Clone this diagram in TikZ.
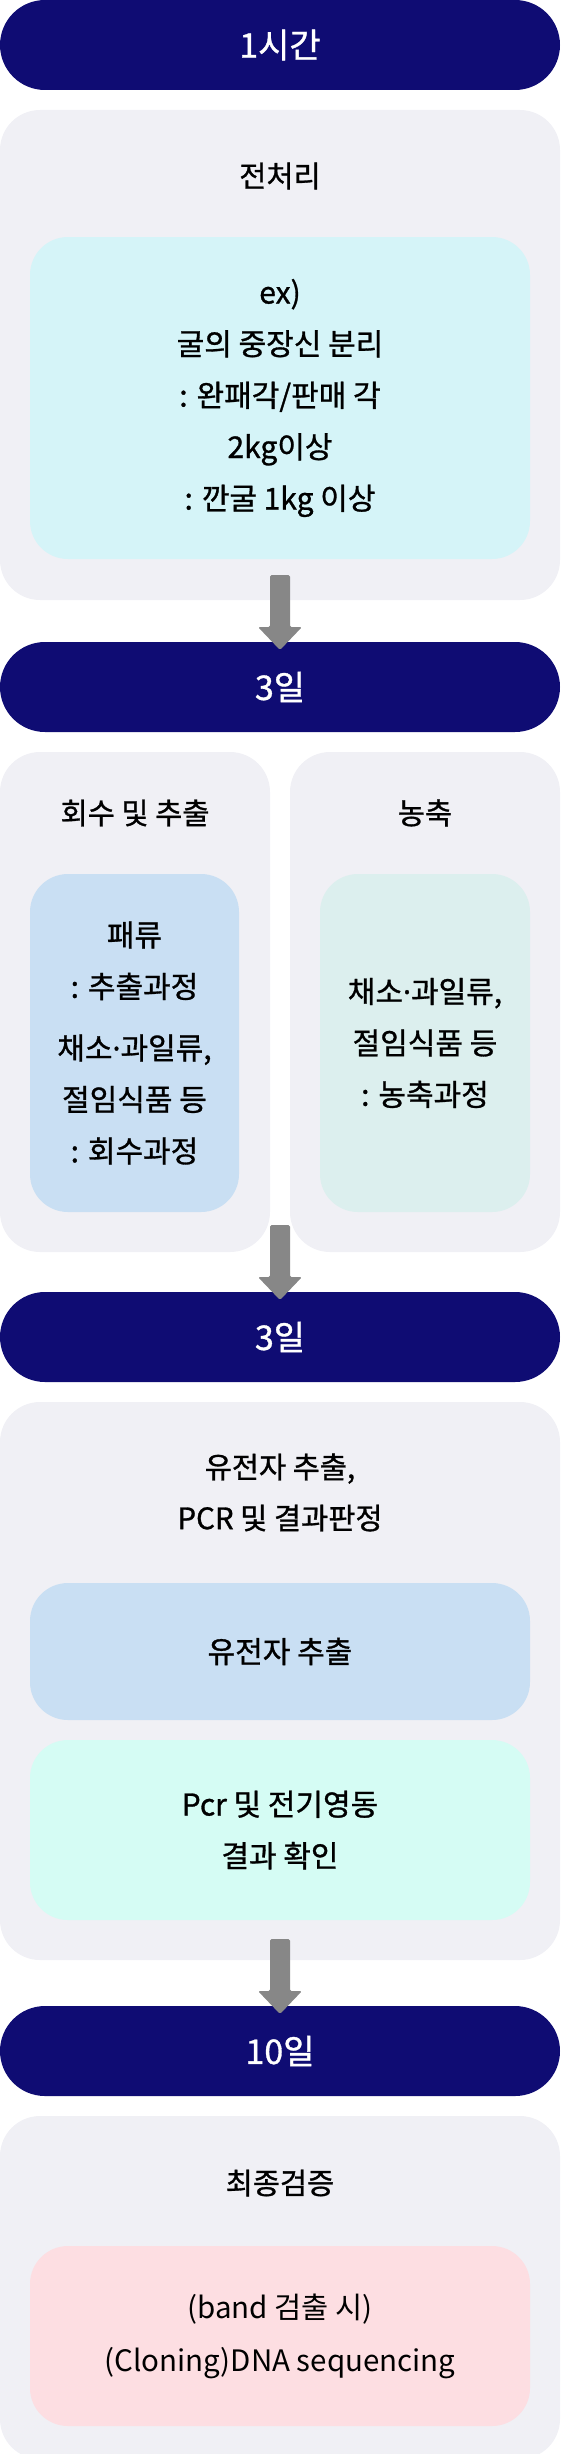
\documentclass[tikz,border=0pt]{standalone}
\usepackage{fontspec}
\setmainfont{Noto Sans CJK KR}
\newfontfamily\medf[FakeBold=1]{Noto Sans CJK KR}
\newfontfamily\dotf[FakeBold=1]{Noto Sans}
\newcommand\mdot{{\dotf ·}}
\usetikzlibrary{calc}
\definecolor{navy}{RGB}{15,12,115}
\definecolor{panelc}{RGB}{240,240,245}
\definecolor{cyanbox}{RGB}{213,244,248}
\definecolor{bluebox}{RGB}{201,223,243}
\definecolor{mintA}{RGB}{220,239,238}
\definecolor{mintB}{RGB}{213,252,244}
\definecolor{pinkbox}{RGB}{253,222,226}
\definecolor{arrowgray}{RGB}{135,135,135}
\newcommand\blockarrowto[1]{%
  \fill[blk] ($(#1.north)+(-10,-67)$) -- ($(#1.north)+(10,-67)$) -- ($(#1.north)+(10,-15)$)
    -- ($(#1.north)+(22,-15)$) -- ($(#1.north)+(0,8)$) -- ($(#1.north)+(-22,-15)$)
    -- ($(#1.north)+(-10,-15)$) -- cycle;}
\begin{document}
\begin{tikzpicture}[x=1pt,y=-1pt,
  every node/.style={inner sep=0pt, outer sep=0pt},
  pill/.style={fill=navy, rounded corners=45pt, minimum width=560pt, minimum height=90pt, text=white, font=\medf\fontsize{34}{40}\selectfont},
  panelbox/.style={fill=panelc, rounded corners=40pt},
  innerbox/.style={rounded corners=38pt, align=center, font=\medf\fontsize{30}{51.5}\selectfont},
  ttl/.style={align=center, font=\medf\fontsize{29.5}{51}\selectfont},
  blk/.style={fill=arrowgray, rounded corners=1.5pt}]
\useasboundingbox (0,0) rectangle (560,2454);
% stage 1
\node[pill] (p1) at (280,45) {1시간};
\node[panelbox, minimum width=560pt, minimum height=490pt] (g1) at (280,355) {};
\node[ttl] (t1) at (280,176) {전처리};
\node[innerbox, fill=cyanbox, minimum width=500pt, minimum height=322pt] (c1) at (280,398)
  {ex)\\굴의 중장신 분리\\: 완패각/판매 각\\2kg이상\\: 깐굴 1kg 이상};
% stage 2
\node[pill] (p2) at (280,687) {3일};
\node[panelbox, minimum width=270pt, minimum height=500pt] (g2l) at (135,1002) {};
\node[panelbox, minimum width=270pt, minimum height=500pt] (g2r) at (425,1002) {};
\node[ttl] (t2l) at (135,813) {회수 및 추출};
\node[ttl] (t2r) at (425,813) {농축};
\node[innerbox, fill=bluebox, minimum width=209pt, minimum height=338pt] (c2l) at (134.5,1043)
  {패류\\: 추출과정\\[10pt]채소\mdot 과일류,\\절임식품 등\\: 회수과정};
\node[innerbox, fill=mintA, minimum width=210pt, minimum height=338pt] (c2r) at (425,1043)
  {채소\mdot 과일류,\\절임식품 등\\: 농축과정};
% stage 3
\node[pill] (p3) at (280,1337) {3일};
\node[panelbox, minimum width=560pt, minimum height=558pt] (g3) at (280,1681) {};
\node[ttl] (t3) at (280,1492.5) {유전자 추출,\\PCR 및 결과판정};
\node[innerbox, fill=bluebox, minimum width=500pt, minimum height=137pt] (c3a) at (280,1651.5) {유전자 추출};
\node[innerbox, fill=mintB, minimum width=500pt, minimum height=180pt] (c3b) at (280,1830)
  {Pcr 및 전기영동\\결과 확인};
% stage 4
\node[pill] (p4) at (280,2051) {10일};
\node[panelbox, minimum width=560pt, minimum height=343pt] (g4) at (280,2287.5) {};
\node[ttl] (t4) at (280,2183) {최종검증};
\node[innerbox, fill=pinkbox, minimum width=500pt, minimum height=180pt, font=\fontsize{29.5}{53}\selectfont] (c4) at (280,2336)
  {(band 검출 시)\\(Cloning)DNA sequencing};
% arrows
\blockarrowto{p2}
\blockarrowto{p3}
\blockarrowto{p4}
\end{tikzpicture}
\end{document}
